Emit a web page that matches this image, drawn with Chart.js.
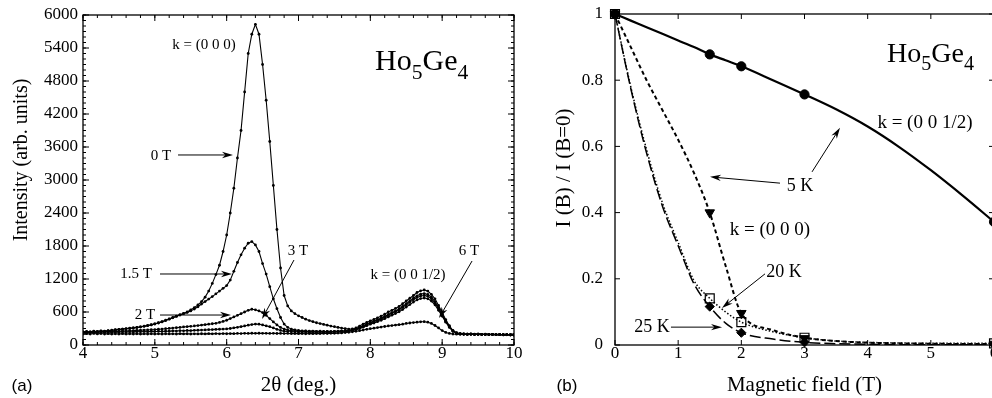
<!DOCTYPE html>
<html><head><meta charset="utf-8">
<script src="https://cdn.jsdelivr.net/npm/chart.js@4/dist/chart.umd.min.js"></script>
<style>
html,body{margin:0;padding:0;background:#fff;overflow:hidden;width:992px;height:398px;}
#wa{position:absolute;left:0;top:0;width:540px;height:398px;}
#wb{position:absolute;left:520px;top:0;width:480px;height:398px;}
</style></head><body>
<div id="wa"><canvas id="ca"></canvas></div>
<div id="wb"><canvas id="cb"></canvas></div>
<script>
// ---------- Panel (a) data ----------
const twoTheta = [
4.00,4.05,4.10,4.15,4.20,4.25,4.30,4.35,4.40,4.45,
4.50,4.55,4.60,4.65,4.70,4.75,4.80,4.85,4.90,4.95,
5.00,5.05,5.10,5.15,5.20,5.25,5.30,5.35,5.40,5.45,
5.50,5.55,5.60,5.65,5.70,5.75,5.80,5.85,5.90,5.95,
6.00,6.05,6.10,6.15,6.20,6.25,6.30,6.35,6.40,6.45,
6.50,6.55,6.60,6.65,6.70,6.75,6.80,6.85,6.90,6.95,
7.00,7.05,7.10,7.15,7.20,7.25,7.30,7.35,7.40,7.45,
7.50,7.55,7.60,7.65,7.70,7.75,7.80,7.85,7.90,7.95,
8.00,8.05,8.10,8.15,8.20,8.25,8.30,8.35,8.40,8.45,
8.50,8.55,8.60,8.65,8.70,8.75,8.80,8.85,8.90,8.95,
9.00,9.05,9.10,9.15,9.20,9.25,9.30,9.35,9.40,9.45,
9.50,9.55,9.60,9.65,9.70,9.75,9.80,9.85,9.90,9.95,
10.00];
const int0T = [
240,245,238,250,246,255,250,262,268,278,
285,290,298,305,312,320,330,342,355,368,
385,405,425,450,475,500,525,550,575,600,
640,680,730,790,870,980,1120,1280,1450,1700,
2000,2400,2850,3400,3900,4600,5300,5650,5830,5650,
5100,4450,3700,2900,2100,1400,900,710,620,570,
530,500,470,445,425,405,390,375,360,345,
333,320,308,298,290,292,310,345,380,410,
440,465,495,525,560,600,630,665,700,750,
800,850,900,955,985,1000,980,920,840,720,
590,460,350,260,220,205,200,198,200,196,
198,195,196,193,195,190,192,188,190,186,
185];
const int15T = [
235,242,236,248,243,252,248,258,265,275,
282,288,295,302,310,318,328,340,352,365,
382,400,420,445,470,495,520,545,570,592,
620,655,695,745,790,835,880,930,980,1030,
1080,1180,1340,1500,1640,1760,1850,1880,1820,1700,
1480,1290,1060,840,660,500,380,320,290,275,
265,258,255,250,252,248,250,246,248,245,
248,250,255,260,268,278,295,320,350,380,
410,435,460,490,520,555,590,620,655,700,
750,800,850,895,925,935,920,870,790,680,
560,440,340,260,220,205,200,197,199,195,
197,194,195,192,194,190,191,187,189,185,
184];
const int2T = [
228,236,230,242,238,246,240,250,246,252,
250,256,254,260,262,266,268,272,274,278,
280,286,290,296,302,308,314,320,328,334,
340,346,354,362,370,378,386,395,410,428,
450,480,510,540,570,600,630,650,640,620,
590,540,480,420,365,320,290,272,262,256,
252,248,250,246,248,244,246,242,245,244,
246,248,252,256,262,272,288,312,340,370,
398,422,448,475,505,540,575,605,640,685,
730,780,825,865,890,900,885,840,765,660,
545,430,330,255,218,204,199,196,198,194,
196,193,194,191,193,189,190,186,188,184,
183];
const int3T = [
222,230,224,234,228,236,230,238,232,238,
235,240,236,242,238,244,240,246,242,248,
244,250,246,252,250,256,254,260,258,264,
262,266,268,272,274,278,280,284,286,290,
292,300,312,322,334,346,360,372,380,378,
365,348,333,310,285,265,252,246,242,240,
238,236,238,234,236,232,235,232,234,233,
236,238,242,246,252,262,276,298,325,352,
378,400,425,450,478,510,542,572,605,645,
690,735,780,820,845,855,840,800,730,630,
525,415,320,250,215,202,198,195,197,193,
195,192,193,190,192,188,189,185,187,183,
182];
const int6T = [
198,206,200,210,202,208,200,206,198,204,
200,206,198,204,200,205,198,203,200,204,
199,204,200,205,201,204,200,206,202,205,
200,204,201,205,202,206,203,207,204,208,
205,208,206,210,208,212,210,214,212,214,
212,213,210,212,209,211,208,210,207,209,
206,208,205,207,206,208,207,210,209,212,
212,216,220,226,232,240,250,260,272,285,
296,306,316,326,336,346,354,362,370,378,
392,400,408,415,422,424,415,392,355,310,
262,228,210,200,196,194,195,192,194,191,
193,190,192,189,191,187,188,185,186,183,
182];
const angleTicks = [4,5,6,7,8,9,10];
const intensityTicks = [0,600,1200,1800,2400,3000,3600,4200,4800,5400,6000];

// ---------- Panel (b) data ----------
const fieldT = [0, 1.5, 2, 3, 6];
const half5K = [1, 0.878, 0.842, 0.757, 0.372];
const zero5K = [1, 0.400, 0.096, 0.020, 0.003];
const zero20K = [1, 0.141, 0.069, 0.022, 0.005];
const zero25K = [1, 0.116, 0.037, 0.008, 0.001];
// drawn guide curves, read along the lines of the picture
const curveField = [0,0.25,0.5,0.75,1,1.25,1.5,1.75,2,2.5,3,3.5,4,4.5,5,5.5,6];
const curveHalf5K = [1,0.98,0.96,0.94,0.92,0.90,0.878,0.86,0.842,0.80,0.757,0.712,0.66,0.598,0.528,0.452,0.372];
const curveZero5K = [1,0.90,0.80,0.71,0.62,0.52,0.40,0.24,0.096,0.045,0.022,0.012,0.007,0.005,0.004,0.003,0.003];
const curveZero20K = [1,0.78,0.59,0.43,0.31,0.195,0.141,0.10,0.069,0.04,0.022,0.012,0.008,0.006,0.005,0.005,0.005];
const curveZero25K = [1,0.775,0.58,0.42,0.30,0.185,0.116,0.066,0.037,0.018,0.008,0.004,0.002,0.001,0.001,0.001,0.001];
const fieldTicks = [0,1,2,3,4,5,6];
const ratioTicks = [0,0.2,0.4,0.6,0.8,1];

const SERIF = '"Liberation Serif", "Times New Roman", serif';

function drawArrow(ctx,x1,y1,x2,y2,head,w){
  const ang=Math.atan2(y2-y1,x2-x1), c=Math.cos(ang), s=Math.sin(ang);
  ctx.beginPath(); ctx.moveTo(x1,y1); ctx.lineTo(x2-c*head*0.6,y2-s*head*0.6); ctx.stroke();
  ctx.beginPath(); ctx.moveTo(x2,y2);
  ctx.lineTo(x2-c*head+s*w, y2-s*head-c*w);
  ctx.lineTo(x2-c*head*0.7, y2-s*head*0.7);
  ctx.lineTo(x2-c*head-s*w, y2-s*head+c*w);
  ctx.closePath(); ctx.fill();
}

const frameTicks = {
  id:'frameTicks',
  afterDraw(chart){
    const o = chart.options.plugins.frameTicks;
    const ctx = chart.ctx, a = chart.chartArea, xs = chart.scales.x, ys = chart.scales.y;
    ctx.save();
    ctx.strokeStyle='#000'; ctx.fillStyle='#000';
    ctx.lineWidth=1.3;
    ctx.strokeRect(a.left, a.top, a.right-a.left, a.bottom-a.top);
    ctx.lineWidth=1;
    ctx.beginPath();
    const vx=(v,len)=>{const p=xs.getPixelForValue(v); ctx.moveTo(p,a.bottom); ctx.lineTo(p,a.bottom-len); ctx.moveTo(p,a.top); ctx.lineTo(p,a.top+len);};
    const hy=(v,len)=>{const p=ys.getPixelForValue(v); ctx.moveTo(a.left,p); ctx.lineTo(a.left+len,p); ctx.moveTo(a.right,p); ctx.lineTo(a.right-len,p);};
    if(o.xMinor){ for(let k=0;;k++){const v=xs.min+k*o.xMinor; if(v>xs.max+1e-9)break; vx(v,o.minorLen);} }
    if(o.yMinor){ for(let k=0;;k++){const v=ys.min+k*o.yMinor; if(v>ys.max+1e-9)break; hy(v,o.minorLen);} }
    o.xMajor.forEach(v=>vx(v,o.majorLen));
    o.yMajor.forEach(v=>hy(v,o.majorLen));
    ctx.stroke();
    ctx.textAlign='center'; ctx.textBaseline='middle';
    (o.texts||[]).forEach(t=>{
      ctx.font = t.size+'px '+SERIF;
      ctx.fillText(t.t, xs.getPixelForValue(t.x), ys.getPixelForValue(t.y));
    });
    ctx.lineWidth=1;
    (o.arrows||[]).forEach(r=>{
      drawArrow(ctx, xs.getPixelForValue(r.x1), ys.getPixelForValue(r.y1), xs.getPixelForValue(r.x2), ys.getPixelForValue(r.y2), r.head||11, r.w||3.2);
    });
    if(o.formula){
      const f=o.formula; let x=xs.getPixelForValue(f.x); const y=ys.getPixelForValue(f.y);
      ctx.textAlign='left'; ctx.textBaseline='alphabetic';
      const parts=[['Ho',0,1],['5',1,0.72],['Ge',0,1],['4',1,0.72]];
      parts.forEach(p=>{ ctx.font=(f.size*p[2])+'px '+SERIF; ctx.fillText(p[0], x, y + (p[1]? f.size*0.3:0)); x+=ctx.measureText(p[0]).width; });
    }
    if(o.yTitle){
      ctx.save(); ctx.translate(o.yTitle.px, o.yTitle.py); ctx.rotate(-Math.PI/2);
      ctx.font=o.yTitle.size+'px '+SERIF; ctx.textAlign='center'; ctx.textBaseline='middle';
      ctx.fillText(o.yTitle.t,0,0); ctx.restore();
    }
    if(o.letter){
      ctx.font=o.letter.size+'px "Liberation Sans", Arial, sans-serif'; ctx.textAlign='center'; ctx.textBaseline='middle';
      ctx.fillText(o.letter.t,o.letter.px,o.letter.py);
    }
    ctx.restore();
  }
};

const tickFont = {family:SERIF, size:17};
const fitX = s=>{s.height=53; s.paddingLeft=0; s.paddingRight=0;};
const fitY = w=>s=>{s.width=w; s.paddingTop=0; s.paddingBottom=0;};

// ---------- Chart (a) ----------
const seriesA = [int0T,int15T,int2T,int3T,int6T];
new Chart(document.getElementById('ca'), {
  type:'line',
  data:{datasets: seriesA.map((vals,k)=>({
    label:['0 T','1.5 T','2 T','3 T','6 T'][k],
    data: twoTheta.map((x,i)=>({x:x, y:vals[i]})),
    borderColor:'#000', backgroundColor:'#000', borderWidth:1.1,
    pointRadius:1.4, pointBorderWidth:0, pointBackgroundColor:'#000', tension:0
  }))},
  options:{
    responsive:true, maintainAspectRatio:false, animation:false, events:[],
    layout:{autoPadding:false, padding:{top:15,right:26,left:0,bottom:0}},
    plugins:{legend:{display:false}, tooltip:{enabled:false},
      frameTicks:{
        xMajor:angleTicks, yMajor:intensityTicks, xMinor:0.2, yMinor:100, majorLen:6, minorLen:3,
        texts:[
          {t:'k = (0 0 0)', x:5.685, y:5455, size:15},
          {t:'0 T', x:5.086, y:3436, size:15},
          {t:'1.5 T', x:4.738, y:1291, size:15},
          {t:'2 T', x:4.863, y:545, size:15},
          {t:'3 T', x:6.993, y:1709, size:15},
          {t:'6 T', x:9.374, y:1709, size:15},
          {t:'k = (0 0 1/2)', x:8.525, y:1273, size:15}
        ],
        arrows:[
          {x1:5.323,y1:3455,x2:6.088,y2:3455},
          {x1:5.072,y1:1291,x2:6.074,y2:1291},
          {x1:5.072,y1:545,x2:6.06,y2:545},
          {x1:6.937,y1:1545,x2:6.492,y2:473},
          {x1:9.416,y1:1527,x2:8.956,y2:491}
        ],
        formula:{x:8.065, y:5000, size:30},
        yTitle:{t:'Intensity (arb. units)', px:22, py:160, size:20},
        letter:{t:'(a)', px:22, py:386, size:17}
      }
    },
    scales:{
      x:{type:'linear', min:4, max:10,
        grid:{display:false, drawTicks:false}, border:{display:false},
        afterBuildTicks:s=>{s.ticks=angleTicks.map(v=>({value:v}));},
        afterFit:fitX,
        ticks:{font:tickFont, color:'#000', padding:-2, maxRotation:0, callback:v=>String(v)},
        title:{display:true, text:'2θ (deg.)', font:{family:SERIF,size:21}, color:'#000', padding:{top:0,bottom:0}}
      },
      y:{type:'linear', min:0, max:6000,
        grid:{display:false, drawTicks:false}, border:{display:false},
        afterBuildTicks:s=>{s.ticks=intensityTicks.map(v=>({value:v}));},
        afterFit:fitY(83),
        ticks:{font:tickFont, color:'#000', padding:5, callback:v=>String(v)}
      }
    }
  },
  plugins:[frameTicks]
});

// ---------- Chart (b) ----------
const pts = (xs,ys)=>xs.map((x,i)=>({x:x,y:ys[i]}));
new Chart(document.getElementById('cb'), {
  type:'line',
  data:{datasets:[
    {label:'k=(0 0 1/2) 5 K', data:pts(curveField,curveHalf5K), borderColor:'#000', borderWidth:2.2, pointRadius:0, cubicInterpolationMode:'monotone'},
    {label:'k=(0 0 0) 5 K', data:pts(curveField,curveZero5K), borderColor:'#000', borderWidth:2, borderDash:[4,3], pointRadius:0, cubicInterpolationMode:'monotone'},
    {label:'k=(0 0 0) 20 K', data:pts(curveField,curveZero20K), borderColor:'#000', borderWidth:1.5, borderDash:[1.5,2], pointRadius:0, cubicInterpolationMode:'monotone'},
    {label:'k=(0 0 0) 25 K', data:pts(curveField,curveZero25K), borderColor:'#000', borderWidth:1.5, borderDash:[11,4], pointRadius:0, cubicInterpolationMode:'monotone'},
    {label:'pts half 5K', data:pts(fieldT,half5K), showLine:false, pointStyle:'circle', pointRadius:4.6, pointBackgroundColor:'#000', pointBorderColor:'#000', clip:false},
    {label:'pts 5K', data:pts(fieldT,zero5K), showLine:false, pointStyle:'triangle', rotation:180, pointRadius:5.5, pointBackgroundColor:'#000', pointBorderColor:'#000', clip:false},
    {label:'pts 25K', data:pts(fieldT,zero25K), showLine:false, pointStyle:'rectRot', pointRadius:4.6, pointBackgroundColor:'#000', pointBorderColor:'#000', clip:false},
    {label:'pts 20K', data:pts(fieldT,zero20K), showLine:false, pointStyle:'rect', pointRadius:6.3, pointBackgroundColor:'#fff', pointBorderColor:'#000', pointBorderWidth:1.2, clip:false}
  ]},
  options:{
    responsive:true, maintainAspectRatio:false, animation:false, events:[],
    layout:{autoPadding:false, padding:{top:14,right:6,left:0,bottom:0}},
    plugins:{legend:{display:false}, tooltip:{enabled:false},
      frameTicks:{
        xMajor:fieldTicks, yMajor:ratioTicks, majorLen:5, minorLen:0,
        texts:[
          {t:'k = (0 0 1/2)', x:4.907, y:0.671, size:19},
          {t:'5 K', x:2.929, y:0.480, size:18},
          {t:'k = (0 0 0)', x:2.454, y:0.347, size:19},
          {t:'20 K', x:2.675, y:0.221, size:18},
          {t:'25 K', x:0.586, y:0.054, size:18}
        ],
        arrows:[
          {x1:2.612,y1:0.489,x2:1.504,y2:0.508},
          {x1:3.119,y1:0.523,x2:3.562,y2:0.656},
          {x1:2.375,y1:0.215,x2:1.694,y2:0.112},
          {x1:0.886,y1:0.054,x2:1.694,y2:0.054}
        ],
        formula:{x:4.306, y:0.855, size:28},
        yTitle:{t:'I (B) / I (B=0)', px:44, py:168, size:21},
        letter:{t:'(b)', px:47, py:386, size:17}
      }
    },
    scales:{
      x:{type:'linear', min:0, max:6,
        grid:{display:false, drawTicks:false}, border:{display:false},
        afterBuildTicks:s=>{s.ticks=fieldTicks.map(v=>({value:v}));},
        afterFit:fitX,
        ticks:{font:tickFont, color:'#000', padding:-2, maxRotation:0, callback:v=>String(v)},
        title:{display:true, text:'Magnetic field (T)', font:{family:SERIF,size:21}, color:'#000', padding:{top:0,bottom:0}}
      },
      y:{type:'linear', min:0, max:1,
        grid:{display:false, drawTicks:false}, border:{display:false},
        afterBuildTicks:s=>{s.ticks=ratioTicks.map(v=>({value:v}));},
        afterFit:fitY(95),
        ticks:{font:tickFont, color:'#000', padding:12, callback:v=>String(v)}
      }
    }
  },
  plugins:[frameTicks]
});
</script>
</body></html>
